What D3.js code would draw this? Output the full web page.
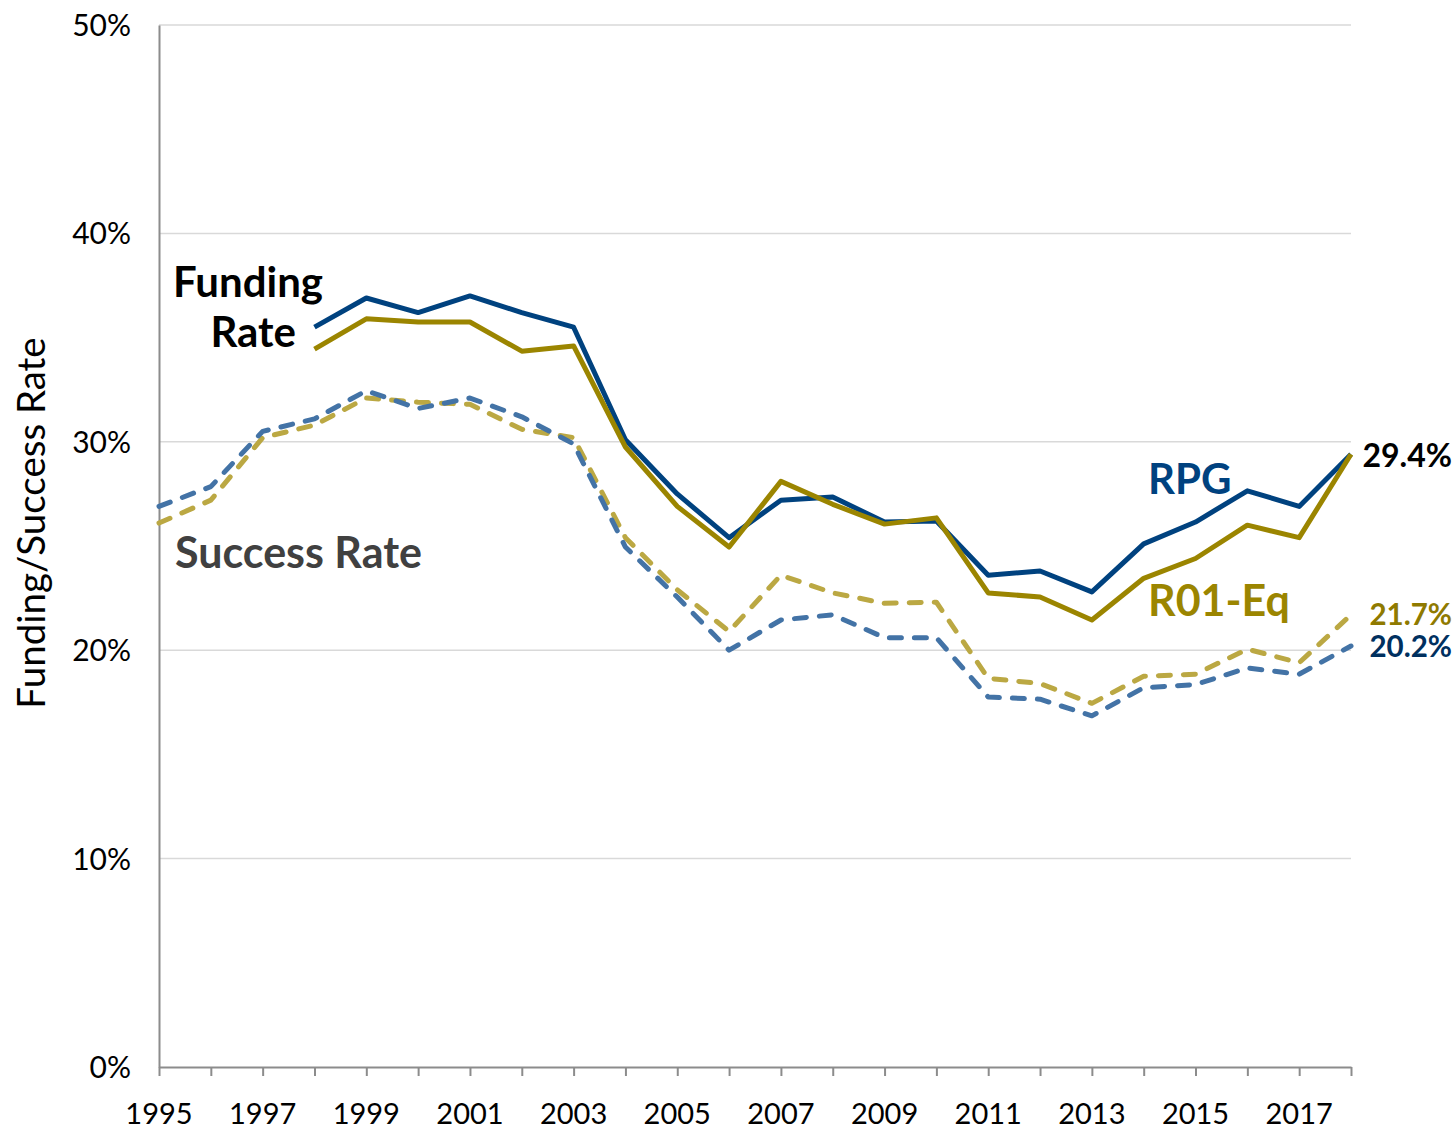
<!DOCTYPE html>
<html>
<head>
<meta charset="utf-8">
<script src="https://cdn.jsdelivr.net/npm/d3@7"></script>
<style>
  html, body { margin: 0; padding: 0; background: #fff; }
  svg { display: block; font-family: Lato, "Open Sans", sans-serif; }
</style>
</head>
<body>
<svg id="chart" width="1456" height="1129"></svg>
<script>
// ---- data ----
const years = [1995,1996,1997,1998,1999,2000,2001,2002,2003,2004,2005,2006,2007,2008,2009,2010,2011,2012,2013,2014,2015,2016,2017,2018];
const fundingYears = [1998,1999,2000,2001,2002,2003,2004,2005,2006,2007,2008,2009,2010,2011,2012,2013,2014,2015,2016,2017,2018];
const rpgSuccess = [26.9,27.85,30.5,31.1,32.45,31.6,32.1,31.2,29.9,24.95,22.55,20.0,21.45,21.7,20.6,20.6,17.75,17.65,16.85,18.2,18.35,19.15,18.85,20.2];
const r01Success = [26.1,27.2,30.2,30.8,32.1,31.9,31.8,30.6,30.2,25.4,22.9,20.9,23.6,22.75,22.25,22.3,18.65,18.4,17.45,18.75,18.85,20.05,19.4,21.7];
const rpgFunding = [35.5,36.9,36.2,37.0,36.2,35.5,30.1,27.5,25.4,27.2,27.35,26.15,26.2,23.6,23.8,22.8,25.1,26.15,27.65,26.9,29.4];
const r01Funding = [34.45,35.9,35.75,35.75,34.35,34.6,29.75,26.9,24.95,28.1,27.0,26.05,26.35,22.75,22.55,21.45,23.45,24.4,26.0,25.4,29.4];
const yTicks = [0,10,20,30,40,50];
const xLabelYears = [1995,1997,1999,2001,2003,2005,2007,2009,2011,2013,2015,2017];
const yTitle = "Funding/Success Rate";

// ---- layout ----
const svg = d3.select("#chart");
const L = 159, R = 1351, T = 25, B = 1067;
const x = d3.scaleLinear().domain([1995, 2018]).range([L, R]);
const y = d3.scaleLinear().domain([0, 50]).range([B, T]);

// gridlines
svg.append("g").selectAll("line").data(yTicks.filter(d => d > 0)).join("line")
  .attr("x1", L).attr("x2", R)
  .attr("y1", d => y(d)).attr("y2", d => y(d))
  .attr("stroke", "#d9d9d9").attr("stroke-width", 1.5);

// y axis
const yAxis = svg.append("g").attr("transform", `translate(${L},0)`)
  .call(d3.axisLeft(y).tickValues(yTicks).tickSize(0).tickPadding(28).tickFormat(d => d + "%"));
yAxis.select(".domain").attr("stroke", "#8c8c8c").attr("stroke-width", 2);
yAxis.selectAll("text").attr("font-family", "Lato").attr("font-size", 30).attr("fill", "#000")
  .attr("dy", "0.35em");

// x axis
const xAxis = svg.append("g").attr("transform", `translate(0,${B})`)
  .call(d3.axisBottom(x).tickValues(years).tickSize(9).tickSizeOuter(0).tickFormat(""));
xAxis.select(".domain").attr("stroke", "#8c8c8c").attr("stroke-width", 2);
xAxis.selectAll(".tick line").attr("stroke", "#8c8c8c").attr("stroke-width", 2);
svg.append("g").selectAll("text").data(xLabelYears).join("text")
  .attr("x", d => x(d)).attr("y", 1124)
  .attr("text-anchor", "middle")
  .attr("font-family", "Lato").attr("font-size", 29).attr("fill", "#000")
  .text(d => d);

// y title
svg.append("text")
  .attr("transform", `translate(45,${523}) rotate(-90)`)
  .attr("text-anchor", "middle")
  .attr("font-family", "Lato").attr("font-size", 38.5).attr("fill", "#000")
  .text(yTitle);

// lines
const line = (xs) => d3.line().x((d, i) => x(xs[i])).y(d => y(d));
const drawLine = (data, xs, color, dashed) => svg.append("path")
  .datum(data)
  .attr("d", line(xs))
  .attr("fill", "none")
  .attr("stroke", color)
  .attr("stroke-width", 5)
  .attr("stroke-linejoin", "round")
  .attr("stroke-linecap", dashed ? "round" : "butt")
  .attr("stroke-dasharray", dashed ? "12,13" : null);

drawLine(r01Success, years, "#bba843", true);
drawLine(rpgSuccess, years, "#4373a6", true);
drawLine(rpgFunding, fundingYears, "#00427f", false);
drawLine(r01Funding, fundingYears, "#9b8500", false);

// annotations
const ann = (txt, px, py, size, color, weight, anchor) => svg.append("text")
  .attr("x", px).attr("y", py)
  .attr("font-family", "Lato").attr("font-size", size).attr("font-weight", weight)
  .attr("fill", color).attr("text-anchor", anchor || "start").text(txt);

ann("Funding", 173, 297, 42, "#000", "bold");
ann("Rate", 296, 347, 42, "#000", "bold", "end");
ann("Success Rate", 175, 568, 43, "#404040", "bold");
ann("RPG", 1148, 494, 42, "#00427f", "bold");
ann("R01-Eq", 1148, 616, 43, "#9b8500", "bold");
ann("29.4%", 1452, 467, 32, "#000", "bold", "end");
ann("21.7%", 1452, 625, 29.5, "#8f7a00", "bold", "end");
ann("20.2%", 1452, 657, 29.5, "#00305f", "bold", "end");
</script>
</body>
</html>
